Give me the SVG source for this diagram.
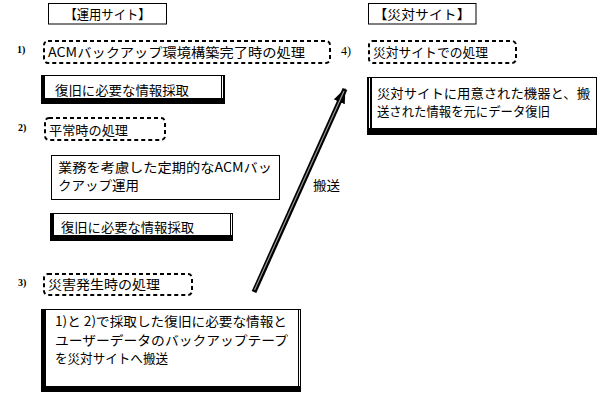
<svg xmlns="http://www.w3.org/2000/svg" width="609" height="407" viewBox="0 0 609 407">
<style>
text{font-family:"Noto Sans CJK JP","Liberation Sans",sans-serif;font-size:13px;fill:#000}
.num{font-family:"Liberation Serif","Noto Sans CJK JP",serif;font-size:10px;font-weight:bold}
.thin{fill:#fff;stroke:#000;stroke-width:1}
.dash{fill:#fff;stroke:#000;stroke-width:2;stroke-dasharray:4 3}
.shadow{fill:#000}
.inner{fill:#fff}
</style>
<defs>
<marker id="ah" markerUnits="userSpaceOnUse" markerWidth="16" markerHeight="14" refX="14" refY="6" orient="auto">
<path d="M0,0 L15,6 L0,12 Z" fill="#000"/>
</marker>
</defs>
<rect width="609" height="407" fill="#fff"/>

<g id="site-ops">
<rect class="thin" x="48.5" y="3.5" width="118" height="20.5"/>
<text x="107.5" y="19" text-anchor="middle" textLength="86" lengthAdjust="spacingAndGlyphs">【運用サイト】</text>
</g>
<g id="site-dr">
<rect class="thin" x="368.5" y="3.5" width="107.5" height="20.5"/>
<text x="422" y="19" text-anchor="middle" textLength="97" lengthAdjust="spacingAndGlyphs">【災対サイト】</text>
</g>

<g id="step1">
<text class="num" x="17" y="53">1)</text>
<rect class="dash" x="44" y="41" width="286" height="22" rx="4"/>
<text x="48" y="57" textLength="257" lengthAdjust="spacingAndGlyphs">ACMバックアップ環境構築完了時の処理</text>
</g>
<g id="collect1">
<rect class="shadow" x="41" y="75" width="184" height="29"/>
<rect class="inner" x="45" y="76" width="176" height="22"/>
<rect class="inner" x="222" y="76" width="1" height="22"/>
<text x="55" y="95" textLength="134" lengthAdjust="spacingAndGlyphs">復旧に必要な情報採取</text>
</g>

<g id="step2">
<text class="num" x="18" y="131">2)</text>
<rect class="dash" x="45" y="118" width="120" height="22" rx="4"/>
<text x="49" y="135" textLength="79" lengthAdjust="spacingAndGlyphs">平常時の処理</text>
</g>
<g id="regular">
<rect class="thin" x="51.5" y="155.5" width="228" height="44"/>
<text x="58" y="172" textLength="214" lengthAdjust="spacingAndGlyphs">業務を考慮した定期的なACMバッ</text>
<text x="58" y="190" textLength="81" lengthAdjust="spacingAndGlyphs">クアップ運用</text>
</g>
<g id="collect2">
<rect class="shadow" x="50" y="213" width="183" height="28"/>
<rect class="inner" x="54" y="214" width="176" height="21"/>
<rect class="inner" x="231" y="214" width="1" height="21"/>
<text x="61" y="232" textLength="133" lengthAdjust="spacingAndGlyphs">復旧に必要な情報採取</text>
</g>

<g id="step3">
<text class="num" x="18" y="286">3)</text>
<rect class="dash" x="44" y="274" width="148" height="21" rx="4"/>
<text x="48" y="289" textLength="112" lengthAdjust="spacingAndGlyphs">災害発生時の処理</text>
</g>
<g id="transport">
<rect class="shadow" x="41" y="309" width="260" height="83"/>
<rect class="inner" x="46" y="310" width="252" height="76"/>
<rect class="inner" x="299" y="310" width="1" height="76"/>
<text x="55" y="326" textLength="232" lengthAdjust="spacingAndGlyphs">1)と 2)で採取した復旧に必要な情報と</text>
<text x="55" y="345" textLength="233" lengthAdjust="spacingAndGlyphs">ユーザーデータのバックアップテープ</text>
<text x="55" y="363" textLength="113" lengthAdjust="spacingAndGlyphs">を災対サイトへ搬送</text>
</g>

<g id="step4">
<text class="num" x="341" y="55" style="font-size:12px;font-weight:normal">4)</text>
<rect class="dash" x="369" y="41" width="147" height="22" rx="4"/>
<text x="373" y="57" textLength="115" lengthAdjust="spacingAndGlyphs">災対サイトでの処理</text>
</g>
<g id="restore">
<rect class="shadow" x="367" y="77" width="230" height="58"/>
<rect class="inner" x="372" y="78" width="224" height="50"/>
<rect class="inner" x="369" y="78" width="1" height="50"/>
<text x="377" y="98" textLength="213" lengthAdjust="spacingAndGlyphs">災対サイトに用意された機器と、搬</text>
<text x="377" y="116" textLength="173" lengthAdjust="spacingAndGlyphs">送された情報を元にデータ復旧</text>
</g>

<g id="connectors">
<line x1="254" y1="292" x2="345" y2="89" stroke="#000" stroke-width="5" marker-end="url(#ah)"/>
<line x1="254.5" y1="290" x2="344" y2="91" stroke="#999" stroke-width="1.2"/>
<text x="313" y="190" textLength="27" lengthAdjust="spacingAndGlyphs">搬送</text>
</g>
</svg>
